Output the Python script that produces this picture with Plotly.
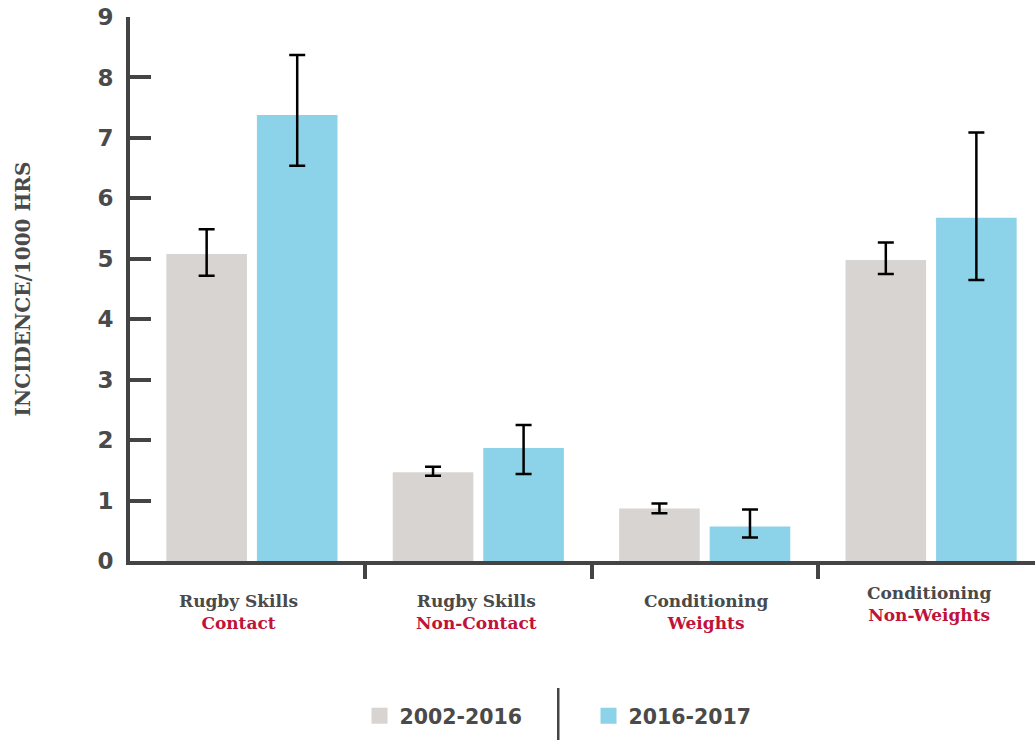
import plotly.graph_objects as go

# Injury incidence per 1000 training hours, by activity type
categories = ["Rugby Skills Contact", "Rugby Skills Non-Contact",
              "Conditioning Weights", "Conditioning Non-Weights"]
category_main = ["Rugby Skills", "Rugby Skills", "Conditioning", "Conditioning"]
category_sub = ["Contact", "Non-Contact", "Weights", "Non-Weights"]

series_names = ["2002-2016", "2016-2017"]

incidence_2002_2016 = [5.08, 1.47, 0.87, 4.98]
upper_2002_2016 = [5.49, 1.56, 0.95, 5.27]
lower_2002_2016 = [4.72, 1.41, 0.79, 4.75]

incidence_2016_2017 = [7.38, 1.87, 0.57, 5.68]
upper_2016_2017 = [8.37, 2.25, 0.85, 7.09]
lower_2016_2017 = [6.54, 1.44, 0.39, 4.65]

y_ticks = list(range(0, 10))
# tick marks sit on the boundaries between activity groups
boundary_ticks = [0.5, 1.5, 2.5]

GREY_BAR = "#d8d4d1"
BLUE_BAR = "#8cd2e8"
AXIS = "#444444"
TEXT = "#4a4a4a"
CRIMSON = "#c1123a"
colors = [GREY_BAR, BLUE_BAR]

# pixel nudges for the two-line category captions (x, y)
caption_shift = [(-13, -28), (-2, -28), (1, -28), (-2, -20)]

x_range = [-0.5386, 3.459]


def err(vals, hi, lo):
    return dict(type="data", symmetric=False,
                array=[h - v for h, v in zip(hi, vals)],
                arrayminus=[v - l for v, l in zip(vals, lo)],
                color="#000000", thickness=2.5, width=8)


fig = go.Figure()
for name, vals, hi, lo, col in [
    (series_names[0], incidence_2002_2016, upper_2002_2016, lower_2002_2016, GREY_BAR),
    (series_names[1], incidence_2016_2017, upper_2016_2017, lower_2016_2017, BLUE_BAR),
]:
    fig.add_trace(go.Bar(
        x=categories, y=vals, name=name, legendgroup=name, showlegend=False,
        marker=dict(color=col, line=dict(width=0)),
        error_y=err(vals, hi, lo),
    ))

# legend swatches (square markers, larger than the default bar swatch)
for name, col in zip(series_names, colors):
    fig.add_trace(go.Scatter(
        x=[None], y=[None], name=name, legendgroup=name, mode="markers",
        marker=dict(symbol="square", size=17, color=col),
    ))

# invisible trace that carries the group-boundary axis
fig.add_trace(go.Scatter(
    x=boundary_ticks, y=[0] * len(boundary_ticks), xaxis="x2", yaxis="y",
    mode="markers", marker=dict(opacity=0), showlegend=False, hoverinfo="skip",
))

# two-line category captions under each group
for cat, main, sub, (dx, dy) in zip(categories, category_main, category_sub, caption_shift):
    fig.add_annotation(
        x=cat, xref="x", y=0, yref="paper", yanchor="top", xanchor="center",
        xshift=dx, yshift=dy, showarrow=False, align="center",
        text=f"<b>{main}</b><br><b><span style='color:{CRIMSON}'>{sub}</span></b>",
        font=dict(family="DejaVu Serif", size=17, color=TEXT),
    )

# divider between the two legend entries
fig.add_shape(type="line", xref="paper", yref="paper",
              x0=0.4732, x1=0.4732, y0=-0.2335, y1=-0.34,
              line=dict(color=AXIS, width=2.5))

fig.update_layout(
    width=1035, height=740,
    margin=dict(l=129.5, r=0, t=17, b=179),
    paper_bgcolor="white", plot_bgcolor="white",
    barmode="group", bargap=0.2, bargroupgap=0.11,
    showlegend=True,
    legend=dict(orientation="h", x=0.2536, y=-0.285, xanchor="left", yanchor="middle",
                bgcolor="rgba(0,0,0,0)", itemsizing="trace",
                font=dict(family="DejaVu Sans", size=20.5, color=TEXT, weight="bold"),
                entrywidth=184, entrywidthmode="pixels", traceorder="normal"),
    xaxis=dict(
        type="category", range=x_range,
        showticklabels=False, ticks="", showgrid=False, zeroline=False,
        showline=True, linecolor=AXIS, linewidth=4,
    ),
    xaxis2=dict(
        overlaying="x", anchor="y", side="bottom", range=x_range,
        tickmode="array", tickvals=boundary_ticks, showticklabels=False,
        ticks="outside", ticklen=17, tickwidth=4, tickcolor=AXIS,
        showline=False, showgrid=False, zeroline=False,
    ),
    yaxis=dict(
        range=[0, 9], tickmode="array", tickvals=y_ticks,
        ticks="inside", ticklen=21, tickwidth=4, tickcolor=AXIS,
        showline=True, linecolor=AXIS, linewidth=4,
        showgrid=False, zeroline=False,
        tickfont=dict(family="DejaVu Sans", size=23, color=TEXT, weight="bold"),
        ticklabelstandoff=8,
        title=dict(text="INCIDENCE/1000 HRS", standoff=62,
                   font=dict(family="DejaVu Serif", size=20, color=TEXT, weight="bold")),
    ),
)

fig.write_html("out.html")
